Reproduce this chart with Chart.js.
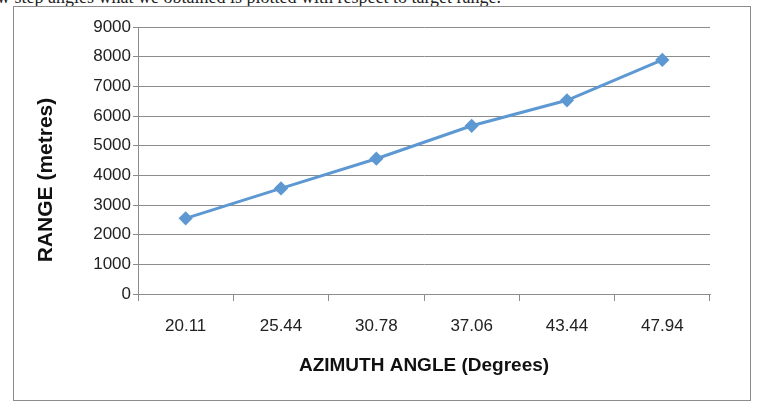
<!DOCTYPE html>
<html>
<head>
<meta charset="utf-8">
<script src="https://cdn.jsdelivr.net/npm/chart.js@4"></script>
<style>
  body { margin: 0; background: #fff; }
  #wrap { position: relative; width: 757px; height: 412px; overflow: hidden; }
  #caption { position: absolute; left: -3px; top: -13px; font: 18px "Liberation Serif", serif; color: #222; white-space: nowrap; }
  #frame { position: absolute; left: 13px; top: 6px; width: 736px; height: 393px; border: 1.5px solid #8c8c8c; }
  #scaleChart { position: absolute; left: 0; top: 0; }
</style>
</head>
<body>
<div id="wrap">
  <div id="caption">w step angles what we obtained is plotted with respect to target range.</div>
  <div id="frame"></div>
  <canvas id="scaleChart" width="757" height="412"></canvas>
</div>
<script>
// azimuth angle categories and the measured range
const angleLabels = ['20.11', '25.44', '30.78', '37.06', '43.44', '47.94'];
const rangeValues = [2550, 3560, 4560, 5670, 6530, 7890];
const rangeTicks = [0, 1000, 2000, 3000, 4000, 5000, 6000, 7000, 8000, 9000];
const yTitle = 'RANGE (metres)';

// y title sits a bit below the middle of the axis in the original, so draw it by hand
const yTitlePlugin = {
  id: 'yTitle',
  afterDraw(chart) {
    const c = chart.ctx;
    c.save();
    c.translate(46, 180);
    c.rotate(-Math.PI / 2);
    c.font = 'bold 21px "Liberation Sans"';
    c.fillStyle = '#111';
    c.textAlign = 'center';
    c.textBaseline = 'middle';
    c.fillText(yTitle, 0, 0);
    c.restore();
  }
};

function setupChart(labels, dataArr) {
  let ctx = document.getElementById('scaleChart');
  let myChart = new Chart(ctx, {
    type: 'line',
    data: {
      labels: labels,
      datasets: [{
        label: 'Range',
        data: dataArr,
        borderColor: '#5d98d2',
        backgroundColor: '#5d98d2',
        borderWidth: 3,
        pointStyle: 'rectRot',
        pointRadius: 5,
        tension: 0
      }]
    },
    plugins: [yTitlePlugin],
    options: {
      responsive: false,
      animation: { duration: 0 },
      layout: { padding: { left: 33, right: 47, top: 27, bottom: 35 } },
      plugins: { legend: { display: false }, tooltip: { enabled: false } },
      scales: {
        x: {
          offset: true,
          grid: { display: true, drawOnChartArea: false, color: '#8c8c8c', tickLength: 7, offset: true },
          border: { color: '#8c8c8c', width: 1 },
          ticks: { color: '#222', font: { family: 'Liberation Sans', size: 17 }, padding: 15, maxRotation: 0 },
          title: {
            display: true, text: 'AZIMUTH ANGLE (Degrees)', color: '#111',
            font: { family: 'Liberation Sans', size: 19, weight: 'bold' },
            padding: { top: 0, bottom: 0 }
          },
          afterFit: s => { s.height = 83; }
        },
        y: {
          min: 0, max: 9000,
          afterBuildTicks: s => { s.ticks = rangeTicks.map(v => ({ value: v })); },
          grid: { color: '#8c8c8c', tickLength: 5 },
          border: { color: '#8c8c8c', width: 1 },
          ticks: { color: '#222', font: { family: 'Liberation Sans', size: 17 }, padding: 2, callback: v => String(v) },
          afterFit: s => { s.width = 105; }
        }
      }
    }
  });
  return myChart;
}

setupChart(angleLabels, rangeValues);
</script>
</body>
</html>
